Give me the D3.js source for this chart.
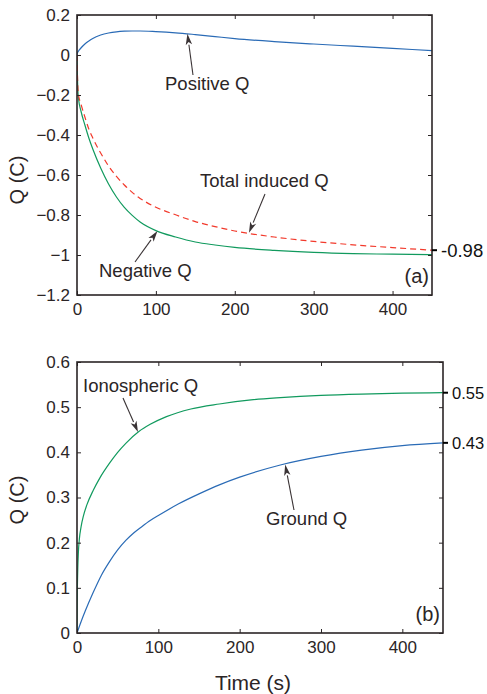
<!DOCTYPE html>
<html>
<head>
<meta charset="utf-8">
<script src="https://cdn.jsdelivr.net/npm/d3@7"></script>
<style>
  body { margin: 0; background: #fff; }
  svg text { font-family: "Liberation Sans", Arial, sans-serif; fill: #2b2526; }
</style>
</head>
<body>
<svg width="487" height="694"></svg>
<script>
// ---- data ----
var timeA = [0, 0.5, 1, 2, 5, 10, 15, 20, 30, 40, 50, 60, 70, 80, 100, 125, 150, 175, 200, 250, 300, 350, 400, 450];
var positiveQ = [0, 0.01, 0.015, 0.02, 0.035, 0.055, 0.07, 0.083, 0.1, 0.11, 0.116, 0.119, 0.12, 0.12, 0.117, 0.111, 0.102, 0.092, 0.082, 0.067, 0.055, 0.044, 0.033, 0.022];
var negativeQ = [0, -0.1, -0.17, -0.22, -0.28, -0.35, -0.415, -0.47, -0.565, -0.645, -0.71, -0.762, -0.802, -0.835, -0.878, -0.91, -0.935, -0.95, -0.962, -0.977, -0.987, -0.993, -0.996, -0.998];
var totalQ = [0, -0.09, -0.155, -0.2, -0.245, -0.31, -0.37, -0.415, -0.49, -0.555, -0.607, -0.65, -0.687, -0.717, -0.761, -0.799, -0.833, -0.858, -0.88, -0.91, -0.932, -0.949, -0.963, -0.976];

var timeB = [0, 0.2, 0.5, 1, 1.6, 3, 5, 8, 12, 20, 28, 40, 50, 60, 76, 90, 110, 140, 175, 214, 250, 300, 350, 400, 450];
var ionoQ = [0, 0.06, 0.104, 0.145, 0.175, 0.21, 0.235, 0.26, 0.283, 0.316, 0.343, 0.376, 0.4, 0.42, 0.446, 0.462, 0.479, 0.496, 0.507, 0.516, 0.521, 0.526, 0.529, 0.531, 0.532];
var timeG = [0, 5, 10, 20, 30, 40, 50, 60, 70, 80, 90, 100, 125, 150, 175, 200, 250, 300, 350, 400, 450];
var groundQ = [0, 0.025, 0.048, 0.09, 0.128, 0.158, 0.184, 0.205, 0.222, 0.236, 0.249, 0.26, 0.286, 0.308, 0.328, 0.345, 0.372, 0.391, 0.405, 0.415, 0.421];

var xTicks = [0, 100, 200, 300, 400];
var yTicksA = [-1.2, -1, -0.8, -0.6, -0.4, -0.2, 0, 0.2];
var yTicksB = [0, 0.1, 0.2, 0.3, 0.4, 0.5, 0.6];
var endLabelsA = ["-0.98"];
var endLabelsB = ["0.55", "0.43"];

var blue = "#2a6bb6", green = "#119a5e", red = "#f23a2c", frameColor = "#2b2526";

var svg = d3.select("svg");
var fmt = d3.format("~g");

function panel(opt) {
  var x = d3.scaleLinear().domain([0, 450]).range([opt.left, opt.right]);
  var y = d3.scaleLinear().domain(opt.yDomain).range([opt.bottom, opt.top]);
  var g = svg.append("g");

  g.append("clipPath").attr("id", opt.id)
    .append("rect").attr("x", opt.left).attr("y", opt.top)
    .attr("width", opt.right - opt.left).attr("height", opt.bottom - opt.top);

  var line = d3.line().x(function(d) { return x(d[0]); }).y(function(d) { return y(d[1]); })
    .curve(d3.curveMonotoneX);

  opt.series.forEach(function(s) {
    g.append("path")
      .datum(d3.zip(s.t, s.v))
      .attr("clip-path", "url(#" + opt.id + ")")
      .attr("fill", "none")
      .attr("stroke", s.color)
      .attr("stroke-width", 1.2)
      .attr("stroke-dasharray", s.dash || null)
      .attr("d", line);
  });

  // axes, ticks pointing inward
  var axes = [
    [d3.axisBottom(x).tickValues(xTicks).tickSize(-4).tickPadding(8), "translate(0," + opt.bottom + ")"],
    [d3.axisTop(x).tickValues(xTicks).tickSize(-4).tickFormat(""), "translate(0," + opt.top + ")"],
    [d3.axisLeft(y).tickValues(opt.yTicks).tickSize(-4).tickPadding(7).tickFormat(fmt), "translate(" + opt.left + ",0)"],
    [d3.axisRight(y).tickValues(opt.yTicks).tickSize(-4).tickFormat(""), "translate(" + opt.right + ",0)"]
  ];
  axes.forEach(function(a) {
    var ag = g.append("g").attr("transform", a[1]).call(a[0]);
    ag.select(".domain").remove();
    ag.selectAll("line").attr("stroke", frameColor).attr("stroke-width", 1);
    ag.selectAll("text").attr("font-size", 17).style("fill", "#2b2526");
  });

  g.append("rect").attr("x", opt.left).attr("y", opt.top)
    .attr("width", opt.right - opt.left).attr("height", opt.bottom - opt.top)
    .attr("fill", "none").attr("stroke", frameColor).attr("stroke-width", 1.6);

  // end value ticks on the right
  opt.ends.forEach(function(e) {
    g.append("line").attr("x1", opt.right).attr("x2", opt.right + 5)
      .attr("y1", y(e.v)).attr("y2", y(e.v)).attr("stroke", "#000").attr("stroke-width", 2);
    g.append("text").attr("x", opt.right + 9).attr("y", y(e.v)).attr("dy", "0.36em")
      .attr("font-size", opt.endSize).style("fill", "#111").text(e.label);
  });

  g.append("text")
    .attr("transform", "translate(" + opt.yLabelX + "," + opt.yLabelY + ") rotate(-90)")
    .attr("text-anchor", "middle").attr("font-size", 20).text("Q (C)");

  g.append("text").attr("x", opt.right - 3).attr("y", opt.bottom - 12)
    .attr("text-anchor", "end").attr("font-size", 20).text(opt.tag);

  opt.notes.forEach(function(n) {
    g.append("text").attr("x", n.tx).attr("y", n.ty).attr("font-size", 18.5).text(n.text);
    arrow(g, n.from[0], n.from[1], x(n.at[0]), y(n.at[1]));
  });
}

function arrow(g, x1, y1, x2, y2) {
  var ang = Math.atan2(y2 - y1, x2 - x1), L = 11, W = 3.2;
  var bx = x2 - L * Math.cos(ang), by = y2 - L * Math.sin(ang);
  g.append("line").attr("x1", x1).attr("y1", y1).attr("x2", bx).attr("y2", by)
    .attr("stroke", "#3a3335").attr("stroke-width", 1.1);
  var px = -Math.sin(ang) * W, py = Math.cos(ang) * W;
  g.append("path")
    .attr("d", "M" + x2 + "," + y2 + "L" + (bx + px) + "," + (by + py) + "L" + (bx + L * 0.25 * Math.cos(ang)) + "," + (by + L * 0.25 * Math.sin(ang)) + "L" + (bx - px) + "," + (by - py) + "Z")
    .attr("fill", "#3a3335");
}

panel({
  id: "clipA", left: 77, right: 432, top: 15, bottom: 295,
  yDomain: [-1.2, 0.2], yTicks: yTicksA, tag: "(a)", endSize: 18.5,
  yLabelX: 24, yLabelY: 180,
  series: [
    { t: timeA, v: positiveQ, color: blue },
    { t: timeA, v: negativeQ, color: green },
    { t: timeA, v: totalQ, color: red, dash: "6,4" }
  ],
  ends: [{ v: totalQ[totalQ.length - 1], label: endLabelsA[0] }],
  notes: [
    { text: "Positive Q", tx: 165, ty: 90, from: [193, 75], at: [140, 0.106] },
    { text: "Total induced Q", tx: 200, ty: 187, from: [265, 194], at: [218, -0.889] },
    { text: "Negative Q", tx: 99, ty: 277, from: [135, 262], at: [102, -0.88] }
  ]
});

panel({
  id: "clipB", left: 77, right: 443, top: 362, bottom: 633,
  yDomain: [0, 0.6], yTicks: yTicksB, tag: "(b)", endSize: 16.5,
  yLabelX: 24, yLabelY: 500,
  series: [
    { t: timeB, v: ionoQ, color: green },
    { t: timeG, v: groundQ, color: blue }
  ],
  ends: [
    { v: ionoQ[ionoQ.length - 1], label: endLabelsB[0] },
    { v: groundQ[groundQ.length - 1], label: endLabelsB[1] }
  ],
  notes: [
    { text: "Ionospheric Q", tx: 83, ty: 392, from: [123, 398], at: [75, 0.445] },
    { text: "Ground Q", tx: 266, ty: 525, from: [294, 510], at: [256, 0.373] }
  ]
});

svg.append("text").attr("x", 253).attr("y", 690).attr("text-anchor", "middle")
  .attr("font-size", 21).text("Time (s)");
</script>
</body>
</html>
